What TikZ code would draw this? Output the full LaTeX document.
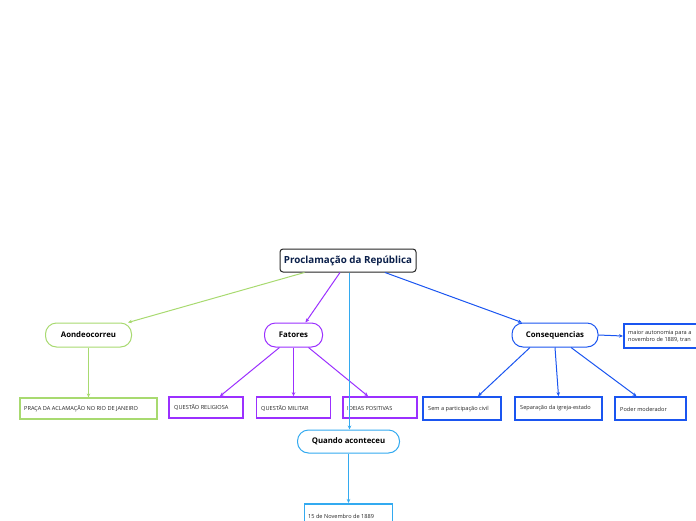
\documentclass[tikz,border=0pt]{standalone}
\usepackage{fontspec}
\setmainfont{Open Sans}
\usetikzlibrary{arrows.meta}
\definecolor{cgreen}{HTML}{A8DA70}
\definecolor{cpurple}{HTML}{9B30FF}
\definecolor{clblue}{HTML}{33AAF0}
\definecolor{cblue}{HTML}{1A55F0}
\definecolor{croot}{HTML}{0A1F4A}
\tikzset{
  rootbox/.style={draw=black!85, line width=1pt, rounded corners=3pt, fill=white, text=croot, font=\fontsize{9.8}{11}\selectfont\bfseries, minimum width=136pt, minimum height=23pt, inner sep=0pt},
  pill/.style={draw=#1, line width=1pt, rounded corners=11pt, fill=white, font=\fontsize{7.8}{9}\selectfont\bfseries, minimum height=24pt, inner sep=0pt},
  leaf/.style={draw=#1, line width=1.6pt, fill=white, minimum height=21pt, inner sep=0pt},
  leaftext/.style={font=\fontsize{5.6}{7}\selectfont, anchor=west, inner sep=0pt, align=left, text=black!85},
  conn/.style={draw=#1, line width=1pt, -{Stealth[length=4pt,width=3.5pt]}},
}
\begin{document}
\begin{tikzpicture}[x=1pt,y=-1pt]
\useasboundingbox (0,0) rectangle (696,520);
% nodes
\node[rootbox] (root) at (348,260.5) {Proclamação da República};
\node[pill=cgreen, minimum width=86pt] (aonde) at (88.5,335) {Aondeocorreu};
\node[leaf=cgreen, line width=1.2pt, minimum width=137pt, minimum height=21pt] (praca) at (88.5,408.5) {};
\node[leaftext] (pracat) at (24,408.5) {PRAÇA DA ACLAMAÇÃO NO RIO DE JANEIRO};
\node[pill=cpurple, minimum width=58pt] (fat) at (293.5,335) {Fatores};
\node[leaf=cpurple, minimum width=74pt] (qr) at (206,407.5) {};
\node[leaftext] (qrt) at (174,407.5) {QUESTÃO RELIGIOSA};
\node[leaf=cpurple, minimum width=74pt] (qm) at (293.5,407.5) {};
\node[leaftext] (qmt) at (261,408.5) {QUESTÃO MILITAR};
\node[leaf=cpurple, minimum width=74pt] (ip) at (380,407.5) {};
\node[leaftext] (ipt) at (347,408.5) {IDEIAS POSITIVAS};
\node[pill=clblue, minimum width=102pt, minimum height=23pt] (quando) at (348.5,441.5) {Quando aconteceu};
\node[leaf=clblue, minimum width=88pt, minimum height=30pt, anchor=north] (nov) at (348.5,503) {};
\node[leaftext] (novt) at (308,516) {15 de Novembro de 1889};
\node[pill=cblue, minimum width=86pt] (cons) at (555,335) {Consequencias};
\node[leaf=cblue, minimum width=78pt, minimum height=23pt] (sem) at (462,408.5) {};
\node[leaftext] (semt) at (428,409.5) {Sem a participação civil};
\node[leaf=cblue, minimum width=87pt, minimum height=23pt] (sep) at (558.5,408.5) {};
\node[leaftext] (sept) at (520,408.5) {Separação da igreja-estado};
\node[leaf=cblue, minimum width=71pt, minimum height=23pt] (pod) at (650.5,408.5) {};
\node[leaftext] (podt) at (620,409.5) {Poder moderador};
\node[leaf=cblue, minimum width=100pt, minimum height=24pt, anchor=west] (mai) at (623,336) {};
\node[leaftext] (mait) at (628,336) {maior autonomia para a\\novembro de 1889, tran};
% connectors
\draw[conn=cgreen] ([xshift=25pt]root.south west) -- ([xshift=-4pt]aonde.north east);
\draw[conn=cgreen] (aonde.south) -- (praca.north);
\draw[conn=cpurple] ([xshift=-8pt]root.south) -- ([xshift=12pt]fat.north);
\draw[conn=cpurple] ([xshift=-14pt]fat.south) -- ([xshift=14pt]qr.north);
\draw[conn=cpurple] (fat.south) -- (qm.north);
\draw[conn=cpurple] ([xshift=15pt]fat.south) -- ([xshift=-12pt]ip.north);
\draw[conn=clblue] ([xshift=1.5pt]root.south) -- ([xshift=1pt]quando.north);
\draw[conn=clblue] (quando.south) -- (nov.north);
\draw[conn=cblue] ([xshift=37pt]root.south) -- ([xshift=-33pt]cons.north);
\draw[conn=cblue] ([xshift=-25pt]cons.south) -- ([xshift=16pt]sem.north);
\draw[conn=cblue] (cons.south) -- (sep.north);
\draw[conn=cblue] ([xshift=16pt]cons.south) -- ([xshift=-14pt]pod.north);
\draw[conn=cblue] (cons.east) -- (mai.west);
\end{tikzpicture}
\end{document}
